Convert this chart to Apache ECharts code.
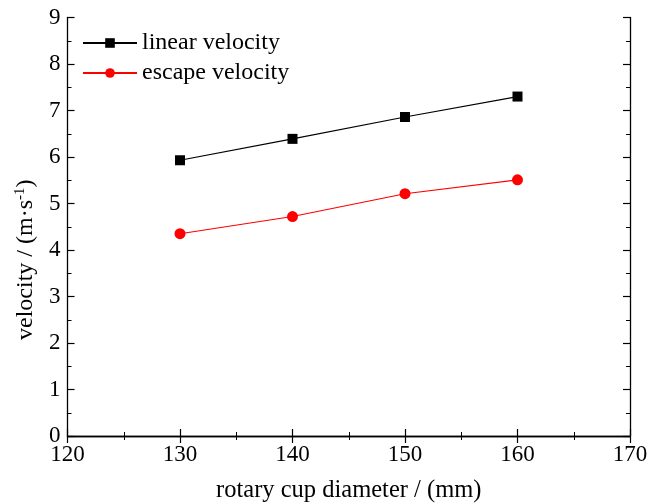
<!DOCTYPE html>
<html>
<head>
<meta charset="utf-8">
<script src="https://cdn.jsdelivr.net/npm/echarts@6/dist/echarts.min.js"></script>
<style>
  html, body { margin: 0; padding: 0; background: #fff; }
</style>
</head>
<body>
<div id="main" style="width: 650px; height: 503px;"></div>
<script>
// data
const diameters = [130, 140, 150, 160];
const linearVelocity = [5.93, 6.39, 6.86, 7.30];
const escapeVelocity = [4.35, 4.72, 5.21, 5.51];

const chartDom = document.getElementById('main');
const myChart = echarts.init(chartDom);

const font = 'Liberation Serif, Times New Roman, serif';
const axisLine = { show: true, lineStyle: { color: '#000', width: 1.3 } };
const tick = { show: true, inside: true, length: 7, lineStyle: { color: '#000', width: 1.2 } };
const minor = { show: true, splitNumber: 2, length: 4, lineStyle: { color: '#000', width: 1 } };

const option = {
  animation: false,
  backgroundColor: '#fff',
  textStyle: { fontFamily: font },
  grid: { left: 67.5, right: 20, top: 17.5, bottom: 67, outerBoundsMode: 'none', containLabel: false },
  legend: {
    orient: 'vertical',
    left: 77,
    top: 26,
    itemGap: 6,
    itemWidth: 54,
    itemHeight: 12,
    textStyle: { fontFamily: font, fontSize: 24, color: '#000' },
    data: ['linear velocity', 'escape velocity']
  },
  xAxis: [
    {
      type: 'value', min: 120, max: 170, interval: 10,
      name: 'rotary cup diameter / (mm)', nameLocation: 'middle', nameGap: 42,
      nameTextStyle: { fontFamily: font, fontSize: 24.5, color: '#000' },
      axisLine: axisLine, axisTick: tick, minorTick: minor,
      axisLabel: { fontFamily: font, fontSize: 23, color: '#000', margin: 7 },
      splitLine: { show: false }
    },
    {
      type: 'value', position: 'top', min: 120, max: 170, interval: 10,
      axisLine: axisLine, axisTick: tick, minorTick: minor,
      axisLabel: { show: false }, splitLine: { show: false }
    }
  ],
  yAxis: [
    {
      type: 'value', min: 0, max: 9, interval: 1,
      name: 'velocity / (m·s{sup|-1})', nameLocation: 'middle', nameGap: 27,
      nameTextStyle: {
        fontFamily: font, fontSize: 24, color: '#000',
        padding: [0, 66, 0, 0],
        rich: { sup: { fontFamily: font, fontSize: 15, color: '#000', verticalAlign: 'top', padding: [0, 0, 12, 0] } }
      },
      axisLine: axisLine, axisTick: tick, minorTick: minor,
      axisLabel: { fontFamily: font, fontSize: 23, color: '#000', margin: 7 },
      splitLine: { show: false }
    },
    {
      type: 'value', position: 'right', min: 0, max: 9, interval: 1,
      axisLine: axisLine, axisTick: tick, minorTick: minor,
      axisLabel: { show: false }, splitLine: { show: false }
    }
  ],
  series: [
    {
      name: 'linear velocity',
      type: 'line',
      data: diameters.map((d, i) => [d, linearVelocity[i]]),
      symbol: 'rect',
      symbolSize: 10,
      itemStyle: { color: '#000' },
      lineStyle: { color: '#000', width: 1.2 }
    },
    {
      name: 'escape velocity',
      type: 'line',
      data: diameters.map((d, i) => [d, escapeVelocity[i]]),
      symbol: 'circle',
      symbolSize: 11,
      itemStyle: { color: '#ff0000' },
      lineStyle: { color: '#ff0000', width: 1.2 }
    }
  ]
};

option && myChart.setOption(option);
</script>
</body>
</html>
